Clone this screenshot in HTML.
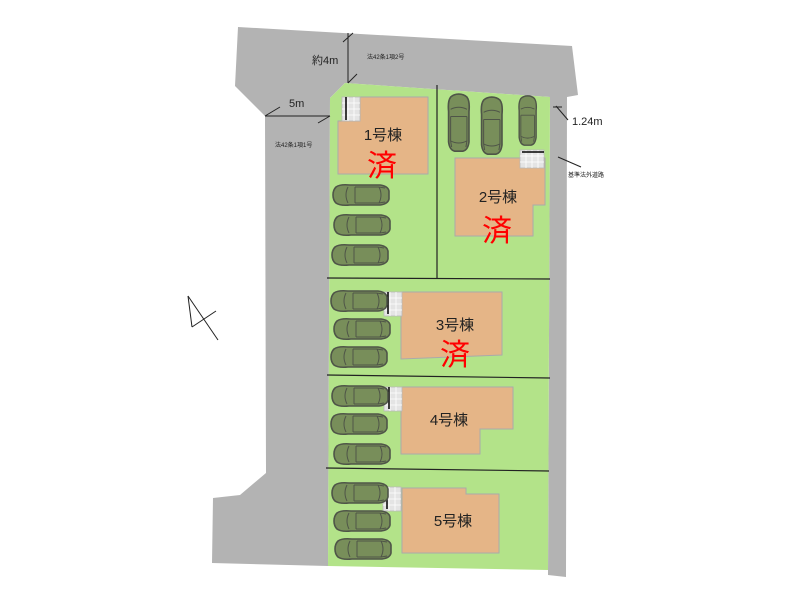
<!DOCTYPE html>
<html><head><meta charset="utf-8"><style>
html,body{margin:0;padding:0;background:#fff;}
svg{display:block;}
text{font-family:"Liberation Sans","Noto Sans CJK JP",sans-serif;}
</style></head><body>
<svg width="800" height="600" viewBox="0 0 800 600" xmlns="http://www.w3.org/2000/svg">
<defs>
<g id="car">
<path d="M4,3 Q8,0 18,1 L48,1 Q56,2 57,7 L57,15 Q56,20 48,21 L18,21 Q8,22 4,19 Q1,16 1,11 Q1,6 4,3 Z" fill="#788e5a" stroke="#4f5548" stroke-width="1.6"/>
<path d="M16,3 Q12,11 16,19 M23,3 L23,19 M23,3 L47,3 Q51,11 47,19 L23,19 M47,3 L53,4 M47,19 L53,18" fill="none" stroke="#4f5548" stroke-width="1"/>
</g>
<g id="tile">
<rect x="0" y="0" width="18" height="24" fill="#e4e4e4" stroke="#b8b8b8" stroke-width="0.8"/>
<path d="M0,6H18M0,12H18M0,18H18M6,0V24M12,0V24" stroke="#fff" stroke-width="0.8"/>
</g>
</defs>
<polygon points="238,27 572,46 578,95 567,97 566,577 548,575 550,97 345,83 330,98 328,566 212,563 213,498 240,495 266,473 265,116 235,86" fill="#b3b3b3"/>
<polygon points="345,83 550,97 548,570 328,566 330,98" fill="#b3e389"/>
<g stroke="#222" stroke-width="1.2">
<line x1="437" y1="85" x2="437" y2="278"/>
<line x1="327" y1="278" x2="550" y2="279"/>
<line x1="327" y1="375" x2="550" y2="378"/>
<line x1="326" y1="468" x2="549" y2="471"/>
</g>
<g fill="#e5b587" stroke="#aaa" stroke-width="1">
<polygon points="360,97 428,97 428,174 338,174 338,121 360,121"/>
<polygon points="455,158 545,158 545,205 533,205 533,236 455,236"/>
<polygon points="401,292 502,292 502,355 401,359"/>
<polygon points="401,387 513,387 513,429 480,429 480,454 401,454"/>
<polygon points="402,488 466,488 466,494 499,494 499,553 402,553"/>
</g>
<use href="#tile" x="342" y="97"/><line x1="346" y1="97" x2="346" y2="120" stroke="#000" stroke-width="1.5"/>
<use href="#tile" transform="translate(544,150) rotate(90)"/><line x1="522" y1="152" x2="544" y2="152" stroke="#000" stroke-width="1.5"/>
<use href="#tile" x="384" y="292"/><line x1="388" y1="292" x2="388" y2="314" stroke="#000" stroke-width="1.5"/>
<use href="#tile" x="384" y="387"/><line x1="389" y1="387" x2="389" y2="409" stroke="#000" stroke-width="1.5"/>
<use href="#tile" x="383" y="487"/><line x1="387" y1="487" x2="387" y2="509" stroke="#000" stroke-width="1.5"/>
<use href="#car" x="332" y="184"/>
<use href="#car" x="333" y="214"/>
<use href="#car" x="331" y="244"/>
<use href="#car" x="330" y="290"/>
<use href="#car" x="333" y="318"/>
<use href="#car" x="330" y="346"/>
<use href="#car" x="331" y="385"/>
<use href="#car" x="330" y="413"/>
<use href="#car" x="333" y="443"/>
<use href="#car" x="331" y="482"/>
<use href="#car" x="333" y="510"/>
<use href="#car" x="334" y="538"/>
<use href="#car" transform="translate(470,93) rotate(90) scale(1.02,1.02)"/>
<use href="#car" transform="translate(503,96) rotate(90) scale(1.02,1.02)"/>
<use href="#car" transform="translate(537,95) rotate(90) scale(0.88,0.85)"/>
<g font-size="15" fill="#222" text-anchor="middle">
<text x="383" y="140">1号棟</text>
<text x="498" y="202">2号棟</text>
<text x="455" y="330">3号棟</text>
<text x="449" y="425">4号棟</text>
<text x="453" y="526">5号棟</text>
</g>
<g font-size="30" fill="#f00" text-anchor="middle">
<text x="382" y="176">済</text>
<text x="497" y="241">済</text>
<text x="455" y="365">済</text>
</g>
<g stroke="#222" stroke-width="1" fill="none">
<line x1="348" y1="33" x2="348" y2="83"/>
<line x1="343" y1="42" x2="353" y2="33"/>
<line x1="348" y1="83" x2="357" y2="74"/>
<line x1="265" y1="116" x2="330" y2="116"/>
<line x1="265" y1="116" x2="280" y2="107"/>
<line x1="318" y1="123" x2="330" y2="116"/>
<line x1="553" y1="107" x2="562" y2="107"/>
<line x1="556" y1="106" x2="568" y2="120"/>
<line x1="558" y1="157" x2="581" y2="167"/>
<line x1="188" y1="296" x2="218" y2="340"/>
<line x1="188" y1="296" x2="192" y2="327"/>
<line x1="192" y1="327" x2="216" y2="311"/>
</g>
<g fill="#222">
<text x="312" y="64" font-size="11">約4m</text>
<text x="289" y="107" font-size="11">5m</text>
<text x="572" y="125" font-size="11">1.24m</text>
<text x="367" y="59" font-size="6">法42条1項2号</text>
<text x="275" y="147" font-size="6">法42条1項1号</text>
<text x="568" y="177" font-size="6">基準法外道路</text>
</g>
</svg>
</body></html>
